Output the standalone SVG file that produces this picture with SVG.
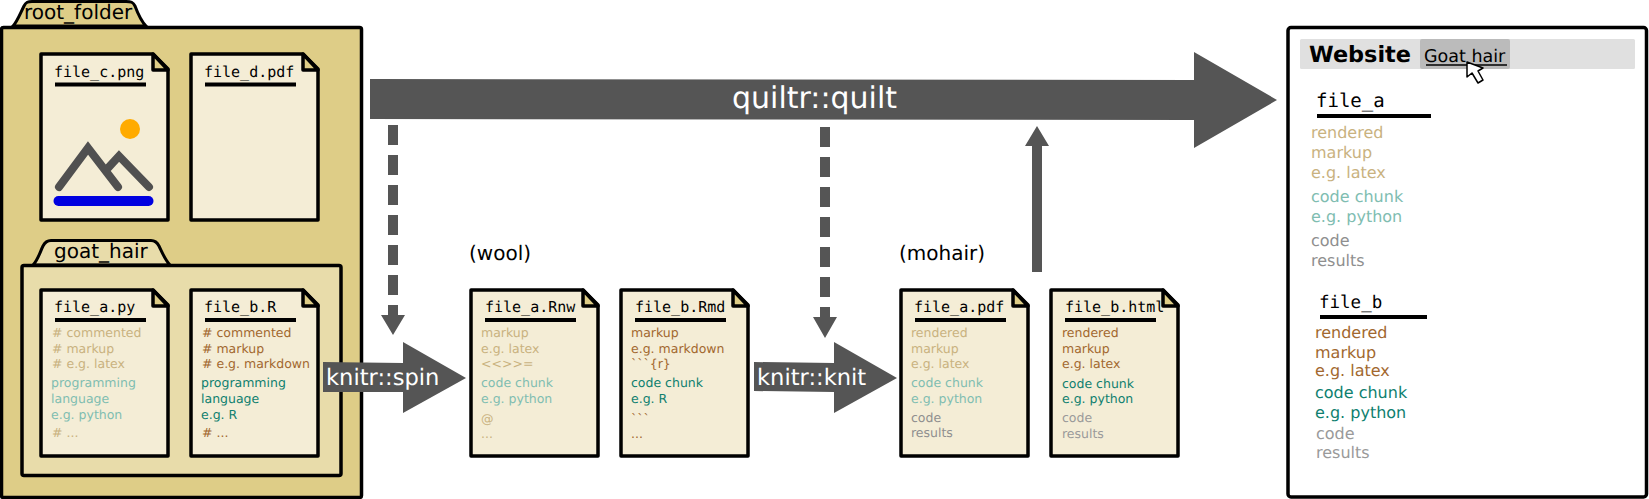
<svg xmlns="http://www.w3.org/2000/svg" xmlns:xlink="http://www.w3.org/1999/xlink" width="1649" height="499" viewBox="0 0 1649 499">
<style>
text{font-family:"DejaVu Sans",sans-serif;text-rendering:geometricPrecision}
.t{font-family:"DejaVu Sans Mono",monospace;font-size:15px;fill:#000}
.m{font-family:"DejaVu Sans Mono",monospace}
.b{font-size:12.500px}
.s{font-size:16px}
.lm{fill:#c9b27f}.dm{fill:#a2682f}.lc{fill:#80bdb1}.dc{fill:#0f7f6f}.g{fill:#8f8f8f}.lg{fill:#9a9a9a}
.u{stroke:#000;stroke-width:4;fill:none}
.p{fill:#f4edd6;stroke:#000;stroke-width:3.500;stroke-linejoin:round}
.f{fill:#decd87;stroke:#000;stroke-width:3.500;stroke-linejoin:round}
.a{fill:#555}
.w{fill:#fff}
.d{stroke:#555;stroke-width:10;fill:none;stroke-dasharray:20 10}
</style>
<defs>
<g id="doc"><path class="p" d="M0 0H112L127 15V166H0Z"/><path class="f" d="M112 0V16H127Z"/></g>
</defs>
<g id="root_folder">
<path d="M13 26C17 22 20 14 24 6 26 2 28 1.500 32 1.500H126C131 1.500 133 2 135 6 138 14 142 22 146 26Z" fill="#decd87" stroke="#000" stroke-width="3"/>
<rect x="1.500" y="27.500" width="360" height="470" rx="2" fill="#decd87" stroke="#000" stroke-width="3.500"/>
<text x="24" y="19" font-size="20">root_folder</text>
</g>
<g id="goat_hair">
<path d="M33 265C38 260 40 252 43 246 45 242 47 240.500 51 240.500H151C155 240.500 157 242 159 246 162 252 165 260 170 265Z" fill="#e8dcaa" stroke="#000" stroke-width="3"/>
<rect x="22" y="265.500" width="319" height="210" rx="2" fill="#e8dcaa" stroke="#000" stroke-width="3.500"/>
<text x="54" y="258" font-size="20">goat_hair</text>
</g>
<g id="file_c">
<use xlink:href="#doc" x="41" y="54"/>
<text class="t" x="54" y="77">file_c.png</text>
<path class="u" d="M55 84.500H146"/>
<circle cx="130" cy="129" r="10" fill="#ffab00"/>
<path d="M59 187L88 148 118 187M108 168L119 156 149 187" fill="none" stroke="#505050" stroke-width="8" stroke-linecap="round"/>
<rect x="53.500" y="196" width="100" height="10" rx="5" fill="#0000e0"/>
</g>
<g id="file_d">
<use xlink:href="#doc" x="191" y="54"/>
<text class="t" x="204" y="77">file_d.pdf</text>
<path class="u" d="M205 84.500H296"/>
</g>
<g id="file_a_py">
<use xlink:href="#doc" x="41" y="290"/>
<text class="t" x="54" y="312">file_a.py</text>
<path class="u" d="M55 320H146"/>
<g class="b">
<text class="lm" x="52" y="337"># commented</text>
<text class="lm" x="52" y="353"># markup</text>
<text class="lm" x="52" y="368"># e.g. latex</text>
<text class="lc" x="51" y="387">programming</text>
<text class="lc" x="51" y="403">language</text>
<text class="lc" x="51" y="419">e.g. python</text>
<text class="lm" x="52" y="437"># ...</text>
</g>
</g>
<g id="file_b_R">
<use xlink:href="#doc" x="191" y="290"/>
<text class="t" x="204" y="312">file_b.R</text>
<path class="u" d="M205 320H296"/>
<g class="b">
<text class="dm" x="202" y="337"># commented</text>
<text class="dm" x="202" y="353"># markup</text>
<text class="dm" x="202" y="368"># e.g. markdown</text>
<text class="dc" x="201" y="387">programming</text>
<text class="dc" x="201" y="403">language</text>
<text class="dc" x="201" y="419">e.g. R</text>
<text class="dm" x="202" y="437"># ...</text>
</g>
</g>
<g id="file_a_Rnw">
<use xlink:href="#doc" x="471" y="290"/>
<text class="t" x="485" y="312">file_a.Rnw</text>
<path class="u" d="M485 320H576"/>
<g class="b">
<text class="lm" x="481" y="337">markup</text>
<text class="lm" x="481" y="353">e.g. latex</text>
<text class="lm" x="481" y="368">&lt;&lt;&gt;&gt;=</text>
<text class="lc" x="481" y="387">code chunk</text>
<text class="lc" x="481" y="403">e.g. python</text>
<text class="lm" x="481" y="423">@</text>
<text class="lm" x="481" y="438">...</text>
</g>
</g>
<g id="file_b_Rmd">
<use xlink:href="#doc" x="621" y="290"/>
<text class="t" x="635" y="312">file_b.Rmd</text>
<path class="u" d="M635 320H726"/>
<g class="b">
<text class="dm" x="631" y="337">markup</text>
<text class="dm" x="631" y="353">e.g. markdown</text>
<text class="dm" x="631" y="368">```{r}</text>
<text class="dc" x="631" y="387">code chunk</text>
<text class="dc" x="631" y="403">e.g. R</text>
<text class="dm" x="631" y="423">```</text>
<text class="dm" x="631" y="438">...</text>
</g>
</g>
<g id="file_a_pdf">
<use xlink:href="#doc" x="901" y="290"/>
<text class="t" x="914" y="312">file_a.pdf</text>
<path class="u" d="M915 320H1006"/>
<g class="b">
<text class="lm" x="911" y="337">rendered</text>
<text class="lm" x="911" y="353">markup</text>
<text class="lm" x="911" y="368">e.g. latex</text>
<text class="lc" x="911" y="387">code chunk</text>
<text class="lc" x="911" y="403">e.g. python</text>
<text class="g" x="911" y="422">code</text>
<text class="g" x="911" y="437">results</text>
</g>
</g>
<g id="file_b_html">
<use xlink:href="#doc" x="1051" y="290"/>
<text class="t" x="1065" y="312">file_b.html</text>
<path class="u" d="M1065 320H1156"/>
<g class="b">
<text class="dm" x="1062" y="337">rendered</text>
<text class="dm" x="1062" y="353">markup</text>
<text class="dm" x="1062" y="368">e.g. latex</text>
<text class="dc" x="1062" y="388">code chunk</text>
<text class="dc" x="1062" y="403">e.g. python</text>
<text class="lg" x="1062" y="422">code</text>
<text class="lg" x="1062" y="438">results</text>
</g>
</g>
<g id="wool"><text x="469" y="260" font-size="20">(wool)</text></g>
<g id="mohair"><text x="899" y="260" font-size="20">(mohair)</text></g>
<g id="website">
<rect x="1288" y="27.500" width="358.500" height="469.500" rx="3" fill="#fff" stroke="#000" stroke-width="3.500"/>
<rect x="1300" y="39" width="335" height="30" rx="1.500" fill="#e0e0e0"/>
<rect x="1420" y="39" width="90" height="30" rx="2" fill="#bbb"/>
<text x="1309" y="62" font-size="22.400" font-weight="bold">Website</text>
<text x="1424" y="62" font-size="17.500">Goat hair</text>
<path d="M1426 65H1507" stroke="#000" stroke-width="1.500"/>
<path d="M1467 62V77L1472 73 1478 83 1483 80 1478 71 1483 68Z" fill="#fff" stroke="#000" stroke-width="1.500" stroke-linejoin="round"/>
<text class="m" x="1316" y="107" font-size="19">file_a</text>
<path d="M1317 116H1431" stroke="#000" stroke-width="4"/>
<g class="s">
<text class="lm" x="1311" y="138">rendered</text>
<text class="lm" x="1311" y="158">markup</text>
<text class="lm" x="1311" y="178">e.g. latex</text>
<text class="lc" x="1311" y="202">code chunk</text>
<text class="lc" x="1311" y="222">e.g. python</text>
<text class="g" x="1311" y="246">code</text>
<text class="g" x="1311" y="266">results</text>
</g>
<text class="m" x="1319" y="308" font-size="17.500">file_b</text>
<path d="M1320 317H1427" stroke="#000" stroke-width="4"/>
<g class="s">
<text class="dm" x="1315" y="338">rendered</text>
<text class="dm" x="1315" y="358">markup</text>
<text class="dm" x="1315" y="376">e.g. latex</text>
<text class="dc" x="1315" y="398">code chunk</text>
<text class="dc" x="1315" y="418">e.g. python</text>
<text class="lg" x="1316" y="439">code</text>
<text class="lg" x="1316" y="458">results</text>
</g>
</g>
<g id="connectors">
<path class="a" d="M370 79L1194 80V52L1277 100 1194 148V120L370 119Z"/>
<text class="w" x="732" y="108" font-size="30">quiltr::quilt</text>
<path class="d" d="M393 125V305"/>
<path class="a" d="M388 305H398V315H405L393 335 381 315H388Z"/>
<path class="d" d="M825 127V307"/>
<path class="a" d="M820 307H830V317H837L825 338 813 317H820Z"/>
<path class="a" d="M1032 272H1042V146H1049L1037 126 1025 146H1032Z"/>
<path class="a" d="M323 362L403 363V342L466 378 403 413V392L323 392Z"/>
<text class="w" x="326" y="385" font-size="22.600">knitr::spin</text>
<path class="a" d="M754 362L834 363V342L897 378 834 413V392L754 391Z"/>
<text class="w" x="757" y="385" font-size="22.600">knitr::knit</text>
</g>
</svg>
